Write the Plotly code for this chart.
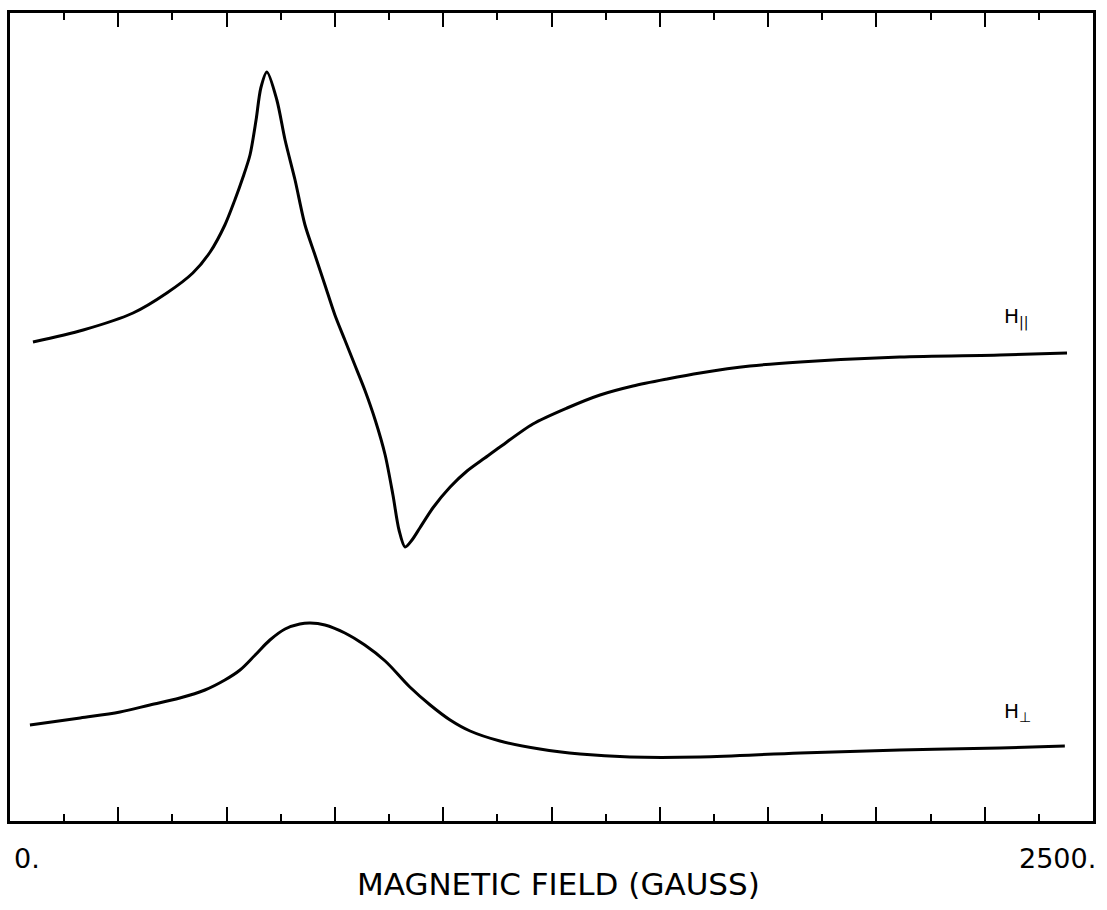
import plotly.graph_objects as go

# Magnetic field (gauss) and signal (arbitrary units) for H parallel
field_par = [53, 169, 284, 362, 422, 462, 496, 519, 538, 554, 568, 579, 593,
             616, 635, 658, 681, 704, 727, 750, 773, 796, 819, 843, 866, 884, 898, 912,
             928, 946, 976, 1016, 1055, 1096, 1131, 1207, 1286, 1362, 1438, 1517, 1593, 1708,
             1824, 2054, 2285, 2440]
signal_par = [478, 490, 507, 527, 547, 568, 595, 620, 643, 665, 700, 732, 748,
              720, 680, 640, 595, 565, 535, 505, 480, 455, 430, 400, 365, 325, 290, 273,
              280, 292, 312, 333, 349, 362, 373, 396, 412, 425, 434, 441, 447, 454,
              458, 463, 465, 467]

# Magnetic field (gauss) and signal (arbitrary units) for H perpendicular
field_perp = [46, 162, 254, 323, 392, 450, 496, 531, 566, 600, 635, 669, 693, 727, 773,
              819, 866, 923, 970, 1016, 1062, 1131, 1223, 1316, 1431, 1593, 1824, 2054,
              2285, 2435]
signal_perp = [95, 102, 108, 115, 122, 130, 140, 150, 165, 180, 191, 196, 197, 195, 187,
               175, 159, 133, 115, 100, 89, 79, 71, 66, 63, 63, 67, 70,
               72, 74]

x_range = [0, 2500]
x_end_labels = ["0.", "2500."]
axis_title = "MAGNETIC FIELD (GAUSS)"
curve_labels = ["H<sub>||</sub>", "H<sub>⊥</sub>"]

fig = go.Figure()
fig.add_trace(go.Scatter(x=field_par, y=signal_par, mode="lines",
                         line=dict(color="black", width=3, shape="spline", smoothing=0.8),
                         showlegend=False, hoverinfo="skip"))
fig.add_trace(go.Scatter(x=field_perp, y=signal_perp, mode="lines",
                         line=dict(color="black", width=3, shape="spline", smoothing=1.0),
                         showlegend=False, hoverinfo="skip"))

fig.update_xaxes(range=x_range, showgrid=False, zeroline=False,
                 showline=True, linecolor="black", linewidth=3, mirror="ticks",
                 ticks="inside", tickcolor="black", tickwidth=2, ticklen=14,
                 dtick=250, tick0=0, showticklabels=False,
                 minor=dict(ticks="inside", dtick=125, tick0=0, ticklen=7,
                            tickwidth=2, tickcolor="black", showgrid=False))
fig.update_yaxes(range=[-1, 807], showgrid=False, zeroline=False,
                 showline=True, linecolor="black", linewidth=3, mirror=True,
                 ticks="", showticklabels=False)

fig.add_annotation(x=0, y=0, xref="x", yref="paper", text=x_end_labels[0],
                   xanchor="left", yanchor="middle", yshift=-37, xshift=2,
                   showarrow=False, font=dict(family="DejaVu Sans", size=27, color="black"))
fig.add_annotation(x=2500, y=0, xref="x", yref="paper", text=x_end_labels[1],
                   xanchor="right", yanchor="middle", yshift=-37, xshift=5,
                   showarrow=False, font=dict(family="DejaVu Sans", size=27, color="black"))
fig.add_annotation(x=0.5, y=0, xref="paper", yref="paper", text=axis_title,
                   xanchor="center", yanchor="middle", yshift=-63, xshift=7,
                   showarrow=False, font=dict(family="DejaVu Sans", size=31, color="black"))
fig.add_annotation(x=2290, y=503, xref="x", yref="y", text=curve_labels[0],
                   xanchor="left", yanchor="middle", showarrow=False,
                   font=dict(family="DejaVu Sans", size=20, color="black"))
fig.add_annotation(x=2290, y=108, xref="x", yref="y", text=curve_labels[1],
                   xanchor="left", yanchor="middle", showarrow=False,
                   font=dict(family="DejaVu Sans", size=20, color="black"))

fig.update_layout(width=1107, height=910, paper_bgcolor="white", plot_bgcolor="white",
                  margin=dict(l=10, r=14, t=13, b=89))

fig.write_html("out.html")
